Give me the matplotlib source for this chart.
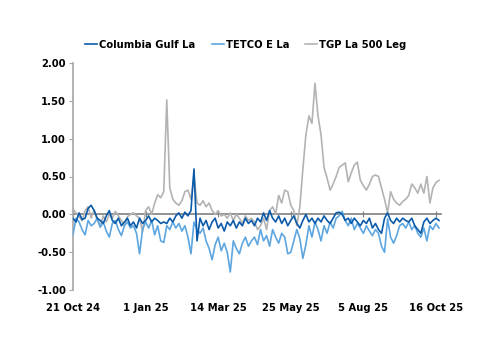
import numpy as np
import pandas as pd
import matplotlib
matplotlib.use('Agg')
import matplotlib.pyplot as plt
import matplotlib.dates as mdates

# daily spread series sampled every 3 days from 21 Oct 2024
dates = pd.date_range('2024-10-21', periods=122, freq='3D')

columbia = [
    -0.05, -0.10, 0.02, -0.07, -0.05, 0.08, 0.12, 0.05, -0.05, -0.08,
    -0.12, -0.02, 0.05, -0.08, -0.12, -0.05, -0.15, -0.10, -0.05, -0.15,
    -0.10, -0.18, -0.05, -0.12, -0.08, -0.02, -0.10, -0.05, -0.08, -0.12,
    -0.10, -0.12, -0.05, -0.10, -0.02, 0.02, -0.05, 0.03, -0.02, 0.05,
    0.60, -0.35, -0.05, -0.15, -0.08, -0.20, -0.10, -0.05, -0.18, -0.12,
    -0.22, -0.10, -0.15, -0.08, -0.18, -0.10, -0.15, -0.05, -0.12, -0.08,
    -0.15, -0.05, -0.10, 0.02, -0.08, 0.05, -0.05, -0.10, -0.02, -0.12,
    -0.05, -0.15, -0.08, -0.02, -0.12, -0.18, -0.08, 0.00, -0.10, -0.05,
    -0.12, -0.05, -0.10, -0.02, -0.08, -0.12, -0.05, 0.02, 0.03, 0.00,
    -0.08, -0.05, -0.12, -0.05, -0.10, -0.15, -0.08, -0.12, -0.05, -0.18,
    -0.12, -0.20, -0.25, -0.05, 0.02, -0.08, -0.12, -0.05, -0.10, -0.05,
    -0.08, -0.10, -0.05, -0.15, -0.20, -0.25, -0.10, -0.05, -0.12, -0.08,
    -0.05, -0.08,
]

tetco = [
    -0.27, -0.05, -0.10, -0.20, -0.27, -0.08, -0.15, -0.12, -0.05, -0.17,
    -0.10, -0.22, -0.30, -0.12, -0.08, -0.20, -0.28, -0.15, -0.10, -0.18,
    -0.15, -0.25, -0.52, -0.20, -0.10, -0.18, -0.08, -0.27, -0.15, -0.35,
    -0.37, -0.15, -0.20, -0.10, -0.18, -0.12, -0.22, -0.15, -0.30, -0.52,
    -0.10, -0.20, -0.25, -0.18, -0.35, -0.45, -0.60, -0.40, -0.30, -0.48,
    -0.38, -0.50, -0.76, -0.35, -0.45, -0.52, -0.38, -0.30, -0.42, -0.35,
    -0.30, -0.40, -0.20, -0.35, -0.28, -0.42, -0.20, -0.30, -0.38, -0.25,
    -0.30, -0.52, -0.50, -0.35, -0.20, -0.32, -0.58, -0.40, -0.15, -0.30,
    -0.10, -0.20, -0.35, -0.15, -0.25, -0.10, -0.18, -0.05, -0.02, 0.04,
    -0.08, -0.15, -0.05, -0.20, -0.12, -0.18, -0.25, -0.15, -0.22, -0.28,
    -0.20, -0.25, -0.42, -0.50, -0.06, -0.30, -0.38, -0.28, -0.15, -0.12,
    -0.18, -0.10, -0.20, -0.15, -0.25, -0.30, -0.18, -0.35, -0.15, -0.20,
    -0.12, -0.18,
]

tgp = [
    0.07, 0.02, -0.03, -0.08, 0.05, 0.10, -0.05, 0.06, -0.08, -0.15,
    -0.02, -0.10, 0.00, -0.05, 0.04, -0.02, -0.08, -0.15, -0.03, 0.00,
    0.02, -0.02, -0.05, -0.23, 0.05, 0.10, 0.00, 0.15, 0.26, 0.22,
    0.30, 1.51, 0.35, 0.20, 0.15, 0.12, 0.18, 0.30, 0.32, 0.20,
    0.51, 0.15, 0.12, 0.18, 0.10, 0.15, 0.05, 0.00, 0.05, -0.02,
    0.00, -0.05, 0.02, -0.08, 0.00, -0.05, -0.12, -0.02, -0.08, -0.05,
    -0.10, -0.20, -0.15, -0.05, -0.20, 0.05, 0.10, 0.00, 0.25, 0.15,
    0.32, 0.30, 0.12, 0.05, -0.15, 0.10, 0.60, 1.05, 1.30, 1.20,
    1.73, 1.30, 1.05, 0.62, 0.48, 0.32, 0.40, 0.50, 0.62, 0.65,
    0.68, 0.43, 0.55, 0.65, 0.69, 0.45, 0.38, 0.32, 0.40, 0.50,
    0.52, 0.50, 0.35, 0.20, 0.02, 0.30, 0.20, 0.15, 0.12, 0.17,
    0.20, 0.25, 0.40, 0.35, 0.28, 0.40, 0.28, 0.50, 0.15, 0.35,
    0.42, 0.45,
]

tick_dates = pd.to_datetime(['2024-10-21', '2025-01-01', '2025-03-14',
                             '2025-05-25', '2025-08-05', '2025-10-16'])
y_ticks = [2.0, 1.5, 1.0, 0.5, 0.0, -0.5, -1.0]

plt.rcParams['font.family'] = 'DejaVu Sans'
plt.rcParams['font.weight'] = 'bold'

fig = plt.figure(figsize=(5.0, 3.53), dpi=100)
ax = fig.add_axes([0.146, 0.178, 0.736, 0.644])

ax.plot(dates, columbia, color='#0B5BAB', lw=1.2, label='Columbia Gulf La', zorder=4)
ax.plot(dates, tetco, color='#5EA6E0', lw=1.2, label='TETCO E La', zorder=3)
ax.plot(dates, tgp, color='#B3B3B3', lw=1.2, label='TGP La 500 Leg', zorder=2)

ax.set_ylim(-1.0, 2.0)
ax.set_yticks(y_ticks)
ax.set_yticklabels([f'{v:.2f}' for v in y_ticks], fontsize=7.2, fontweight='bold')
ax.set_xlim(pd.Timestamp('2024-10-21'), pd.Timestamp('2025-10-21'))

# bottom spine sits on zero, labels go on a separate axis at the bottom
ax.spines['bottom'].set_position(('data', 0))
ax.spines['bottom'].set_color('#7F7F7F')
ax.spines['bottom'].set_linewidth(1.2)
ax.spines['bottom'].set_zorder(1)
ax.set_xticks(tick_dates)
ax.tick_params(axis='x', direction='inout', length=4, color='#7F7F7F', labelbottom=False)

sec = ax.secondary_xaxis('bottom')
sec.set_xticks(tick_dates)
sec.xaxis.set_major_formatter(mdates.DateFormatter('%-d %b %y'))
sec.tick_params(length=0, pad=9, labelsize=7.2)
for lbl in sec.get_xticklabels():
    lbl.set_fontweight('bold')
sec.spines['bottom'].set_visible(False)

ax.spines['left'].set_color('#A6A6A6')
ax.spines['left'].set_linewidth(1.2)
ax.spines['top'].set_visible(False)
ax.spines['right'].set_visible(False)
ax.tick_params(axis='y', direction='out', length=3, color='#A6A6A6', pad=2)

leg = ax.legend(loc='lower center', bbox_to_anchor=(0.47, 1.0), ncol=3, frameon=False,
                fontsize=7.2, handlelength=1.2, handletextpad=0.2, columnspacing=1.6,
                borderaxespad=0.9)
for t in leg.get_texts():
    t.set_fontweight('bold')

fig.savefig('out.png', dpi=100)
